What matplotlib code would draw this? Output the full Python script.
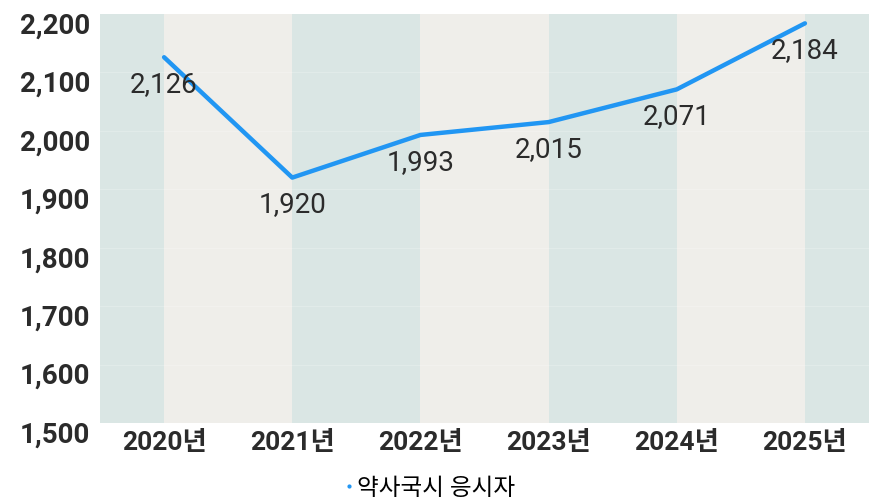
import matplotlib
matplotlib.use("Agg")
import matplotlib.pyplot as plt
from matplotlib.lines import Line2D
from matplotlib.transforms import ScaledTranslation

categories = ["2020년", "2021년", "2022년", "2023년", "2024년", "2025년"]
values = [2126, 1920, 1993, 2015, 2071, 2184]
value_labels = ["2,126", "1,920", "1,993", "2,015", "2,071", "2,184"]
series_name = "약사국시 응시자"
yticks = [1500, 1600, 1700, 1800, 1900, 2000, 2100, 2200]
ytick_labels = ["1,500", "1,600", "1,700", "1,800", "1,900", "2,000", "2,100", "2,200"]

FAM = ["Roboto", "Noto Sans CJK KR", "DejaVu Sans"]
plt.rcParams["font.family"] = FAM

W, H = 896, 502
fig = plt.figure(figsize=(W / 100, H / 100), dpi=100)
fig.patch.set_facecolor("white")
ax = fig.add_axes([100 / W, 78 / H, (869 - 100) / W, (487 - 78) / H])

x = list(range(len(categories)))
ax.set_xlim(-0.5, len(categories) - 0.5)
ax.set_ylim(1500, 2200)

teal = "#dae6e4"
beige = "#efeeea"
edges = [-0.5] + x + [len(categories) - 0.5]
for i in range(len(edges) - 1):
    ax.axvspan(edges[i], edges[i + 1], color=teal if i % 2 == 0 else beige, zorder=0, lw=0)

for yv in yticks[1:-1]:
    ax.axhline(yv, color="white", lw=0.6, alpha=0.25, zorder=1)

line_color = "#2196f3"
ax.plot(x, values, color=line_color, lw=3.2, solid_capstyle="round", solid_joinstyle="round", zorder=3)

for xi, v, lab in zip(x, values, value_labels):
    ax.annotate(lab, (xi, v), xytext=(0, -19), textcoords="offset points",
                ha="center", va="center", fontsize=20, color="#2b2b2b", zorder=4,
                family=FAM)

ax.set_xticks(x)
ax.set_xticklabels(categories, fontsize=19, fontweight="bold", color="#2b2b2b", family=FAM)
ax.set_yticks(yticks)
ax.set_yticklabels(ytick_labels, fontsize=20, fontweight="bold", color="#2b2b2b", family=FAM)
ax.tick_params(axis="both", length=0)
ax.tick_params(axis="y", pad=7)
ax.tick_params(axis="x", pad=5)
for lab in ax.get_yticklabels():
    lab.set_transform(lab.get_transform() + ScaledTranslation(0, -0.08, fig.dpi_scale_trans))

for s in ax.spines.values():
    s.set_visible(False)

handle = Line2D([], [], color=line_color, marker="o", markersize=2, lw=0)
fig.legend([handle], [series_name], loc="center", bbox_to_anchor=(430 / W, 1 - 489 / H),
           frameon=False, handlelength=0.3, handletextpad=0.2,
           prop={"family": FAM, "size": 17, "weight": "medium"})

fig.savefig("out.png", dpi=100, facecolor="white")
